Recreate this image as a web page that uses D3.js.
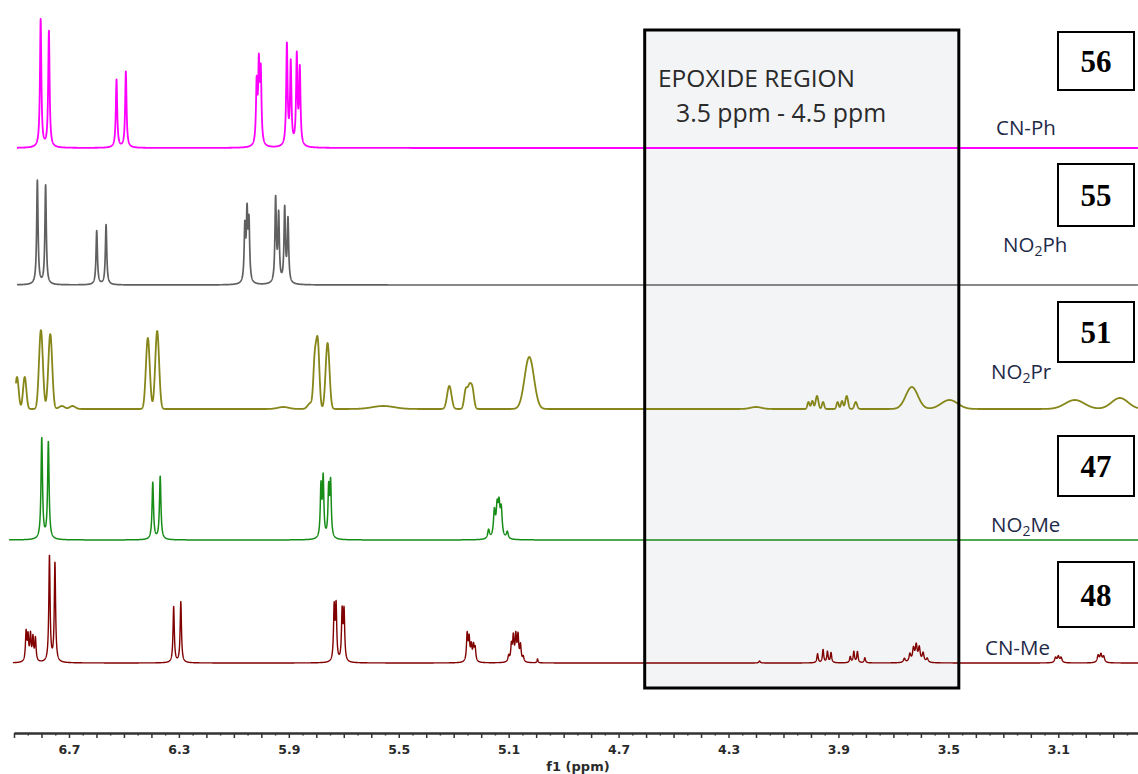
<!DOCTYPE html>
<html><head><meta charset="utf-8">
<script src="https://cdn.jsdelivr.net/npm/d3@7"></script>
<style>
html,body{margin:0;padding:0;background:#fff;}
svg{display:block;}
</style></head>
<body>
<svg id="chart" width="1138" height="774"></svg>
<script>
// ---------------- DATA ----------------
const seriesNames = ["CN-Ph", "NO2Ph", "NO2Pr", "NO2Me", "CN-Me"];
const compoundNumbers = ["56", "55", "51", "47", "48"];
const tickLabels = [6.7, 6.3, 5.9, 5.5, 5.1, 4.7, 4.3, 3.9, 3.5, 3.1];
const epoxideRange = [4.605, 3.462];          // ppm span of shaded region
const epoxideTitle = "EPOXIDE REGION";
const epoxideSubtitle = "3.5 ppm - 4.5 ppm";
const spectrumStart = [6.889, 6.889, 6.893, 6.918, 6.904];  // ppm where each trace begins

// peaks: [ppm, intensity, width(ppm)]
const cnPhPeaks = [
  [6.803,128,0.003],[6.773,116,0.003],[6.527,68,0.003],[6.493,76,0.003],
  [6.017,60,0.003],[6.009,76,0.003],[6.002,70,0.003],
  [5.907,101,0.003],[5.893,82,0.003],[5.871,89,0.003],[5.860,76,0.003]
];
const no2PhPeaks = [
  [6.815,104,0.003],[6.785,99,0.003],[6.599,54,0.003],[6.565,60,0.003],
  [6.060,54,0.003],[6.052,66,0.003],[6.045,58,0.003],
  [5.948,84,0.003],[5.937,67,0.003],[5.915,74,0.003],[5.903,63,0.003]
];
const no2PrPeaks = [
  [6.889,32,0.006],[6.861,32,0.006],[6.802,79,0.007],[6.768,75,0.007],
  [6.726,3,0.01],[6.687,3,0.01],[6.413,71,0.007],[6.379,78,0.007],
  [5.920,2,0.02],[5.821,6,0.01],[5.806,42,0.005],[5.795,68,0.006],[5.759,66,0.007],
  [5.556,3,0.04],[5.316,23,0.008],[5.256,19,0.006],[5.243,20,0.006],[5.232,19,0.006],
  [5.025,52,0.017],[4.200,2,0.02],
  [4.009,7,0.004],[3.995,8,0.004],[3.978,13,0.005],[3.956,7,0.004],
  [3.903,7,0.004],[3.887,8,0.004],[3.870,13,0.005],[3.837,7,0.005],
  [3.633,22,0.022],[3.496,9,0.03],[3.040,9,0.035],[2.876,11,0.03]
];
const no2MePeaks = [
  [6.799,101,0.0032],[6.775,97,0.0032],[6.395,57,0.0032],[6.368,63,0.0032],
  [5.783,51,0.003],[5.775,59,0.003],[5.755,48,0.003],[5.748,54,0.003],
  [5.173,9,0.004],[5.152,26,0.004],[5.142,28,0.004],[5.135,29,0.004],[5.127,27,0.004],[5.105,7,0.004]
];
const cnMePeaks = [
  [6.856,29,0.0028],[6.849,24,0.0028],[6.840,26,0.0028],[6.831,23,0.0028],[6.822,23,0.0028],
  [6.771,106,0.0028],[6.751,99,0.0028],[6.319,56,0.0028],[6.293,61,0.0028],
  [5.735,53,0.0028],[5.728,54,0.0028],[5.706,49,0.0028],[5.699,49,0.0028],
  [5.251,27,0.003],[5.244,22,0.003],[5.236,15,0.003],[5.228,15,0.003],[5.222,13,0.003],
  [5.100,6,0.003],[5.090,16,0.003],[5.083,24,0.003],[5.074,25,0.003],[5.066,25,0.003],[5.057,16,0.003],[5.047,5,0.003],
  [4.995,4,0.002],[4.187,2,0.003],
  [3.976,9,0.0028],[3.956,13,0.0028],[3.940,11,0.0028],[3.927,10,0.0028],
  [3.857,6,0.0028],[3.844,11,0.0028],[3.831,11,0.0028],[3.804,5,0.0028],
  [3.660,4,0.004],[3.640,8,0.004],[3.627,13,0.004],[3.617,16,0.004],[3.606,14,0.004],[3.592,9,0.004],[3.577,4,0.004],
  [3.110,5,0.004],[3.100,6,0.004],[3.090,5,0.004],[2.955,7,0.004],[2.945,8,0.004],[2.935,6,0.004]
];
const allPeaks = [cnPhPeaks, no2PhPeaks, no2PrPeaks, no2MePeaks, cnMePeaks];
const lineShapes = ["lorentz", "lorentz", "gauss", "lorentz", "lorentz"];

// ---------------- STYLE / LAYOUT ----------------
const W = 1138, H = 774;
const colors = ["#ff00ff", "#606060", "#86861a", "#178c17", "#800000"];
const strokeW = [1.8, 1.7, 1.8, 1.5, 1.4];
const baselines = [148, 285, 409, 540, 663];
const labelPos = [[996,135],[1003,252],[991,379],[991,532],[985,655]];
const numBoxY = [32, 164, 302, 436, 562];
const numBoxH = [58, 62, 60, 60, 65];
const axisY = 733;

const svg = d3.select("#chart");
svg.append("rect").attr("width", W).attr("height", H).attr("fill", "#fff");

const x = d3.scaleLinear().domain([6.9, 2.81]).range([14, 1138]);

// epoxide region fill
const boxTop = 30, boxBottom = 688;
svg.append("rect")
  .attr("x", x(epoxideRange[0])).attr("y", boxTop)
  .attr("width", x(epoxideRange[1]) - x(epoxideRange[0]))
  .attr("height", boxBottom - boxTop)
  .attr("fill", "#f3f4f6");

// spectra
function intensity(peaks, shape, p) {
  let s = 0;
  for (const [c, h, w] of peaks) {
    const d = (p - c) / w;
    if (shape === "gauss") s += h * Math.exp(-0.5 * d * d);
    else s += h / (1 + d * d);
  }
  return s;
}
const step = 0.0004;
allPeaks.forEach((peaks, i) => {
  const y = d3.scaleLinear().domain([0, 100]).range([baselines[i], baselines[i] - 100]);
  const pts = [];
  for (let p = spectrumStart[i]; p >= x.domain()[1]; p -= step) {
    pts.push([p, intensity(peaks, lineShapes[i], p)]);
  }
  const line = d3.line().x(d => x(d[0])).y(d => y(d[1]));
  svg.append("path").datum(pts)
    .attr("d", line)
    .attr("fill", "none")
    .attr("stroke", colors[i])
    .attr("stroke-width", strokeW[i])
    .attr("stroke-linejoin", "round");
});

// epoxide border
svg.append("rect")
  .attr("x", x(epoxideRange[0])).attr("y", boxTop)
  .attr("width", x(epoxideRange[1]) - x(epoxideRange[0]))
  .attr("height", boxBottom - boxTop)
  .attr("fill", "none").attr("stroke", "#000").attr("stroke-width", 3);

svg.append("text").attr("x", 658).attr("y", 87)
  .attr("font-family", "Open Sans").attr("font-size", 24.5).attr("fill", "#2a2a2a")
  .text(epoxideTitle);
svg.append("text").attr("x", 676).attr("y", 122)
  .attr("font-family", "Open Sans").attr("font-size", 24.8).attr("fill", "#2a2a2a")
  .text(epoxideSubtitle);

// series labels (with subscript 2)
seriesNames.forEach((name, i) => {
  const t = svg.append("text").attr("x", labelPos[i][0]).attr("y", labelPos[i][1])
    .attr("font-family", "Open Sans").attr("font-size", 20.5).attr("fill", "#1f2a48");
  const m = name.match(/^(.*?)(\d)(.*)$/);
  if (m) {
    t.append("tspan").text(m[1]);
    t.append("tspan").attr("font-size", 14).attr("dy", 4).text(m[2]);
    t.append("tspan").attr("dy", -4).text(m[3]);
  } else t.text(name);
});

// compound number boxes
compoundNumbers.forEach((n, i) => {
  svg.append("rect").attr("x", 1058).attr("y", numBoxY[i])
    .attr("width", 76).attr("height", numBoxH[i])
    .attr("fill", "#fff").attr("stroke", "#000").attr("stroke-width", 2);
  svg.append("text").attr("x", 1096).attr("y", numBoxY[i] + numBoxH[i] / 2 + 11)
    .attr("text-anchor", "middle")
    .attr("font-family", "Liberation Serif").attr("font-weight", "bold")
    .attr("font-size", 31).attr("fill", "#000").text(n);
});

// axis
const majorTicks = d3.range(0, 41).map(i => +(6.9 - i * 0.1).toFixed(2));
const minorTicks = d3.range(0, 41).map(i => +(6.85 - i * 0.1).toFixed(2));
const isLabeled = v => tickLabels.some(t => Math.abs(t - v) < 1e-6);
const axMinor = svg.append("g").attr("transform", `translate(0,${axisY})`)
  .call(d3.axisBottom(x).tickValues(minorTicks).tickSize(2.5).tickSizeOuter(0).tickFormat(""));
const axMajor = svg.append("g").attr("transform", `translate(0,${axisY})`)
  .call(d3.axisBottom(x).tickValues(majorTicks).tickSize(5).tickSizeOuter(0)
    .tickFormat(v => isLabeled(v) ? d3.format(".1f")(v) : ""));
[axMinor, axMajor].forEach(g => {
  g.select(".domain").attr("stroke", "#333").attr("stroke-width", 2);
  g.selectAll(".tick line").attr("stroke", "#333").attr("stroke-width", 1.5);
});
axMajor.selectAll(".tick text")
  .attr("y", 12).attr("font-family", "DejaVu Sans").attr("font-weight", "bold")
  .attr("font-size", 12.5).attr("fill", "#2a2a2a");
svg.append("text").attr("x", 578).attr("y", 771).attr("text-anchor", "middle")
  .attr("font-family", "DejaVu Sans").attr("font-weight", "bold")
  .attr("font-size", 13).attr("fill", "#2a2a2a").text("f1 (ppm)");
</script>
</body></html>
